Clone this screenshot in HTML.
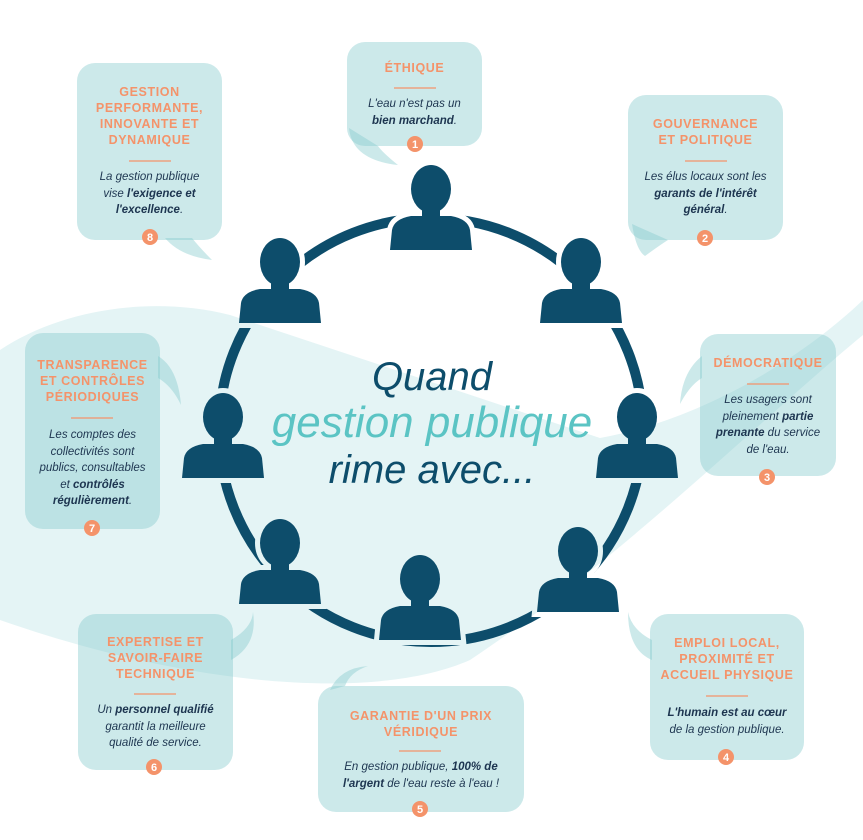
<!DOCTYPE html>
<html><head><meta charset="utf-8">
<style>
html,body{margin:0;padding:0;background:#fff}
#w{position:relative;width:863px;height:840px;overflow:hidden;font-family:"Liberation Sans",sans-serif}
svg{position:absolute;left:0;top:0}
.t{position:absolute;text-align:center;color:#f4936a;font-weight:bold;text-transform:uppercase;font-size:12.5px;line-height:16px;letter-spacing:0.6px}
.b{position:absolute;text-align:center;color:#1d3550;font-style:italic;font-size:11.5px;line-height:16.5px}
.b b{font-weight:bold}
.c{position:absolute;text-align:center;font-style:italic;font-size:40px;line-height:44px;color:#0d4d6b;width:500px;left:182px}
</style></head><body><div id="w">
<svg width="863" height="840" viewBox="0 0 863 840">
<defs>
<g id="p">
<ellipse cx="0" cy="-61" rx="20" ry="24"/>
<rect x="-9" y="-42" width="18" height="12"/>
<path d="M-41,0 L-39,-20 Q-37,-31 -20,-34 L20,-34 Q37,-31 39,-20 L41,0 Z"/>
</g>
<mask id="m">
<rect width="863" height="840" fill="#fff"/>
<g fill="#000" stroke="#000" stroke-width="10">
<use href="#p" x="431" y="250"/>
<use href="#p" x="581" y="323"/>
<use href="#p" x="637" y="478"/>
<use href="#p" x="578" y="612"/>
<use href="#p" x="420" y="640"/>
<use href="#p" x="280" y="604"/>
<use href="#p" x="223" y="478"/>
<use href="#p" x="280" y="323"/>
</g>
</mask>
</defs>
<path d="M0,350 C60,310 150,295 230,315 L600,438 C700,420 800,360 863,300 L863,335 C760,420 620,560 470,660 C380,700 200,690 0,620 Z" fill="#e4f4f5"/>
<circle cx="431" cy="430" r="212" fill="none" stroke="#0d4d6b" stroke-width="10" mask="url(#m)"/>
<g fill="#0d4d6b">
<use href="#p" x="431" y="250"/>
<use href="#p" x="581" y="323"/>
<use href="#p" x="637" y="478"/>
<use href="#p" x="578" y="612"/>
<use href="#p" x="420" y="640"/>
<use href="#p" x="280" y="604"/>
<use href="#p" x="223" y="478"/>
<use href="#p" x="280" y="323"/>
</g>
<g fill="rgb(132,201,203)" fill-opacity="0.41">
<rect x="347" y="42" width="135" height="104" rx="18"/>
<path d="M349,128 Q352,160 398,165 Q382,152 378,146 Z"/>
<rect x="628" y="95" width="155" height="145" rx="18"/>
<path d="M632,224 Q636,250 645,256 Q660,245 668,240 Z"/>
<rect x="700" y="334" width="136" height="142" rx="18"/>
<path d="M702,356 Q682,372 680,404 Q690,385 702,378 Z"/>
<rect x="650" y="614" width="154" height="146" rx="18"/>
<path d="M652,640 Q632,630 628,612 Q628,650 652,660 Z"/>
<rect x="318" y="686" width="206" height="126" rx="18"/>
<path d="M330,690 Q340,668 368,666 Q350,672 345,686 Z"/>
<rect x="78" y="614" width="155" height="156" rx="18"/>
<path d="M231,640 Q252,628 253,612 Q258,645 231,660 Z"/>
<rect x="25" y="333" width="135" height="196" rx="18"/>
<path d="M158,356 Q178,368 181,405 Q172,386 158,378 Z"/>
<rect x="77" y="63" width="145" height="177" rx="18"/>
<path d="M165,238 Q180,256 212,260 Q200,248 192,238 Z"/>
</g>
<g stroke="#f4936a" stroke-width="1.2">
<line x1="394" y1="88" x2="436" y2="88"/>
<line x1="685" y1="161" x2="727" y2="161"/>
<line x1="747" y1="384" x2="789" y2="384"/>
<line x1="706" y1="696" x2="748" y2="696"/>
<line x1="399" y1="751" x2="441" y2="751"/>
<line x1="134" y1="694" x2="176" y2="694"/>
<line x1="71" y1="418" x2="113" y2="418"/>
<line x1="129" y1="161" x2="171" y2="161"/>
</g>
<g fill="#f4936a">
<circle cx="415" cy="144" r="8"/><circle cx="705" cy="238" r="8"/><circle cx="767" cy="477" r="8"/><circle cx="726" cy="757" r="8"/>
<circle cx="420" cy="809" r="8"/><circle cx="154" cy="767" r="8"/><circle cx="92" cy="528" r="8"/><circle cx="150" cy="237" r="8"/>
</g>
<g fill="#fff" font-family="Liberation Sans" font-weight="bold" font-size="11" text-anchor="middle">
<text x="415" y="148">1</text><text x="705" y="242">2</text><text x="767" y="481">3</text><text x="726" y="761">4</text>
<text x="420" y="813">5</text><text x="154" y="771">6</text><text x="92" y="532">7</text><text x="150" y="241">8</text>
</g>
</svg>

<div class="t" style="left:347px;width:135px;top:60px">éthique</div>
<div class="b" style="left:347px;width:135px;top:96px">L'eau n'est pas un<br><b>bien marchand</b>.</div>

<div class="t" style="left:628px;width:155px;top:116px">Gouvernance<br>et politique</div>
<div class="b" style="left:628px;width:155px;top:169px">Les élus locaux sont les<br><b>garants de l'intérêt<br>général</b>.</div>

<div class="t" style="left:700px;width:136px;top:355px">Démocratique</div>
<div class="b" style="left:700px;width:136px;top:392px">Les usagers sont<br>pleinement <b>partie<br>prenante</b> du service<br>de l'eau.</div>

<div class="t" style="left:650px;width:154px;top:635px">Emploi local,<br>proximité et<br>accueil physique</div>
<div class="b" style="left:650px;width:154px;top:705px"><b>L'humain est au cœur</b><br>de la gestion publique.</div>

<div class="t" style="left:318px;width:206px;top:708px">Garantie d'un prix<br>véridique</div>
<div class="b" style="left:318px;width:206px;top:759px">En gestion publique, <b>100% de<br>l'argent</b> de l'eau reste à l'eau !</div>

<div class="t" style="left:78px;width:155px;top:634px">Expertise et<br>savoir-faire<br>technique</div>
<div class="b" style="left:78px;width:155px;top:702px">Un <b>personnel qualifié</b><br>garantit la meilleure<br>qualité de service.</div>

<div class="t" style="left:25px;width:135px;top:357px">Transparence<br>et contrôles<br>périodiques</div>
<div class="b" style="left:25px;width:135px;top:427px">Les comptes des<br>collectivités sont<br>publics, consultables<br>et <b>contrôlés<br>régulièrement</b>.</div>

<div class="t" style="left:77px;width:145px;top:84px">Gestion<br>performante,<br>innovante et<br>dynamique</div>
<div class="b" style="left:77px;width:145px;top:169px">La gestion publique<br>vise <b>l'exigence et<br>l'excellence</b>.</div>

<div class="c" style="top:355px">Quand</div>
<div class="c" style="top:401px;color:#5bc4c4;font-size:44px">gestion publique</div>
<div class="c" style="top:448px">rime avec...</div>
</div></body></html>
